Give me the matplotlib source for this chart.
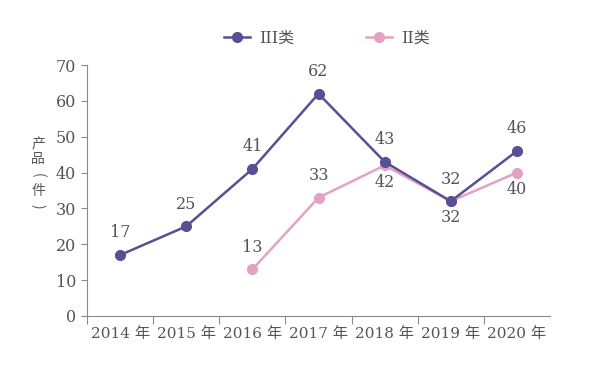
import matplotlib
matplotlib.use("Agg")
import matplotlib.pyplot as plt

years = ["2014 年", "2015 年", "2016 年", "2017 年", "2018 年", "2019 年", "2020 年"]
iii_vals = [17, 25, 41, 62, 43, 32, 46]
ii_years_idx = [2, 3, 4, 5, 6]
ii_vals = [13, 33, 42, 32, 40]
iii_label_above = [True, True, True, True, True, True, True]
ii_label_above = [True, True, False, False, False]
yticks = [0, 10, 20, 30, 40, 50, 60, 70]
ylabel_chars = ["产", "品", "(", "件", ")"]
ylabel_rot = [0, 0, -90, 0, -90]

plt.rcParams['font.family'] = ['DejaVu Serif', 'Noto Sans CJK SC', 'DejaVu Sans']
txt = '#555555'
axc = '#8a8a8a'
c3 = '#5a4e94'
c2 = '#e4a2c3'
fs = 11.5

fig = plt.figure(figsize=(6.01, 3.69), dpi=100)
ax = fig.add_axes([87/601, 1-316/369, (550-87)/601, (316-65)/369])

x3 = list(range(len(years)))
ax.plot(x3, iii_vals, color=c3, lw=1.8, marker='o', ms=7, label='III类', zorder=3)
ax.plot(ii_years_idx, ii_vals, color=c2, lw=1.8, marker='o', ms=7, label='II类', zorder=2)

for x, v, up in zip(x3, iii_vals, iii_label_above):
    ax.annotate(str(v), (x, v), xytext=(0, 16 if up else -12), textcoords='offset points',
                ha='center', va='center', fontsize=fs, color=txt)
for x, v, up in zip(ii_years_idx, ii_vals, ii_label_above):
    ax.annotate(str(v), (x, v), xytext=(0, 16 if up else -12), textcoords='offset points',
                ha='center', va='center', fontsize=fs, color=txt)

ax.set_xlim(-0.5, len(years) - 0.5)
ax.set_ylim(0, 70)
ax.set_yticks(yticks)
ax.set_yticklabels([str(t) for t in yticks], fontsize=fs, color=txt)
ax.set_xticks([i - 0.5 for i in range(len(years))])
ax.set_xticklabels([])
ax.set_xticks(x3, minor=True)
ax.set_xticklabels(years, minor=True, fontsize=11, color=txt)
ax.tick_params(axis='x', which='minor', length=0, pad=8)
ax.tick_params(axis='x', which='major', length=6, color=axc, direction='out')
ax.tick_params(axis='y', length=4, color=axc, pad=4)
ax.spines['top'].set_visible(False)
ax.spines['right'].set_visible(False)
ax.spines['left'].set_color(axc)
ax.spines['bottom'].set_color(axc)

for i, (ch, rot) in enumerate(zip(ylabel_chars, ylabel_rot)):
    fig.text(38/601, 1-(144 + i*15.5)/369, ch, ha='center', va='center', fontsize=10,
             color=txt, family=['Noto Sans CJK SC', 'DejaVu Sans'], rotation=rot)

leg = fig.legend(loc='center', bbox_to_anchor=(327/601, 1-38/369), ncol=2, frameon=False,
                 fontsize=11.5, handlelength=1.6, handletextpad=0.6, columnspacing=4.5,
                 labelcolor=txt)
fig.savefig("out.png", dpi=100, facecolor='white')
